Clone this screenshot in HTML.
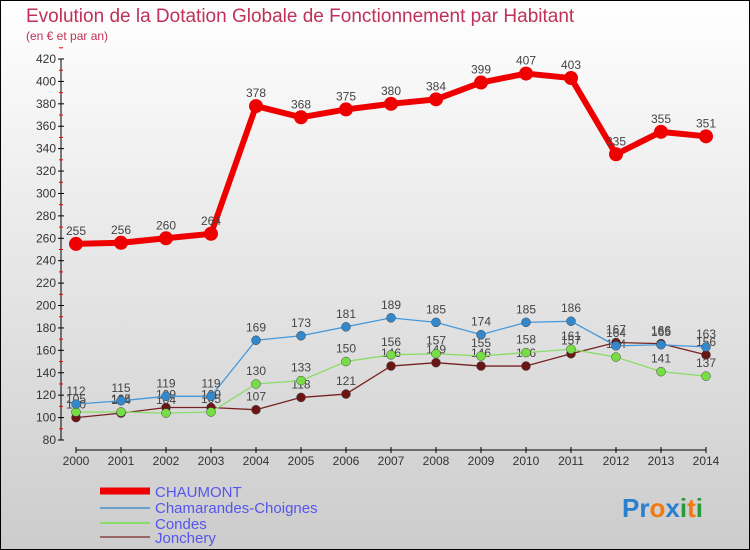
<!DOCTYPE html>
<html><head><meta charset="utf-8"><style>
body{margin:0}
svg{display:block;font-family:"Liberation Sans",sans-serif}
</style></head><body>
<svg id="c" width="750" height="550" xmlns="http://www.w3.org/2000/svg">
<defs><linearGradient id="bg" x1="0" y1="0" x2="0" y2="1"><stop offset="0" stop-color="#ffffff"/><stop offset="1" stop-color="#cccccc"/></linearGradient></defs>
<rect x="0.5" y="0.5" width="749" height="549" fill="url(#bg)" stroke="#000"/>
<text x="26" y="22" font-size="19" fill="#c0305a">Evolution de la Dotation Globale de Fonctionnement par Habitant</text>
<text x="26" y="40" font-size="12" fill="#c0305a">(en € et par an)</text>
<g id="axes"></g><g id="series"></g>
<g>
<line x1="100" y1="491" x2="150" y2="491" stroke="#e00" stroke-width="7"/>
<text x="155" y="497" font-size="15" fill="#5555ee">CHAUMONT</text>
<line x1="100" y1="508" x2="150" y2="508" stroke="#6aa0cc" stroke-width="2"/>
<text x="155" y="513" font-size="15" fill="#5555ee">Chamarandes-Choignes</text>
<line x1="100" y1="523" x2="150" y2="523" stroke="#88dd66" stroke-width="2"/>
<text x="155" y="529" font-size="15" fill="#5555ee">Condes</text>
<line x1="100" y1="537" x2="150" y2="537" stroke="#996666" stroke-width="2"/>
<text x="155" y="543" font-size="15" fill="#5555ee">Jonchery</text>
</g>
<text x="622" y="517" font-size="26" font-weight="bold"><tspan fill="#2a7fd0">Pr</tspan><tspan fill="#f07a10">o</tspan><tspan fill="#2a7fd0">x</tspan><tspan fill="#2a9a3a">i</tspan><tspan fill="#f07a10">t</tspan><tspan fill="#2a9a3a">i</tspan></text>
</svg>
<script>
const years=["2000","2001","2002","2003","2004","2005","2006","2007","2008","2009","2010","2011","2012","2013","2014"];
const yTicks=[80,100,120,140,160,180,200,220,240,260,280,300,320,340,360,380,400,420];
const chaumont=[255,256,260,264,378,368,375,380,384,399,407,403,335,355,351];
const chamarandes=[112,115,119,119,169,173,181,189,185,174,185,186,164,165,163];
const condes=[105,105,104,105,130,133,150,156,157,155,158,161,154,141,137];
const jonchery=[100,104,109,109,107,118,121,146,149,146,146,157,167,166,156];
const NS="http://www.w3.org/2000/svg";
const xS=i=>76+i*45;
const yS=v=>440-(v-80)*381/340;
function mk(t,a,p){const e=document.createElementNS(NS,t);for(const k in a)e.setAttribute(k,a[k]);p.appendChild(e);return e;}
const ax=document.getElementById('axes');
const yl=mk('line',{x1:61,y1:yS(420),x2:61,y2:yS(80),stroke:'#000'},ax);


yTicks.forEach(v=>{
 mk('line',{x1:58,y1:yS(v),x2:64,y2:yS(v),stroke:'#000'},ax);
 mk('line',{x1:59,y1:yS(v+10),x2:63,y2:yS(v+10),stroke:'#e00'},ax);
 const t=mk('text',{x:56,y:yS(v)+4,'font-size':12,fill:'#333','text-anchor':'end'},ax);t.textContent=v;
 
 
});
const xl=mk('line',{x1:76,y1:450,x2:706,y2:450,stroke:'#000'},ax);


years.forEach((y,i)=>{
 mk('line',{x1:xS(i),y1:447,x2:xS(i),y2:453,stroke:'#000'},ax);
 const t=mk('text',{x:xS(i),y:465,'font-size':12,fill:'#333','text-anchor':'middle'},ax);t.textContent=y;
 
 
});
const sg=document.getElementById('series');
function series(data,name,col,lw,r,dot){
 const g=mk('g',{},sg);
 
 
 mk('polyline',{points:data.map((v,i)=>xS(i)+','+yS(v)).join(' '),fill:'none',stroke:col,'stroke-width':lw,'stroke-linejoin':'round'},g);
 data.forEach((v,i)=>{
  const c=mk('circle',{cx:xS(i),cy:yS(v),r:r,fill:dot,stroke:dot==='#e00'?'none':'#444','stroke-width':0.5},g);
  
  
  const t=mk('text',{x:xS(i),y:yS(v)-9,'font-size':12,fill:'#444','text-anchor':'middle'},g);t.textContent=v;
 });
}
series(jonchery,'jonchery','#772222',1.3,4.5,'#6b1515');
series(condes,'condes','#88dd66',1.3,4.5,'#77dd44');
series(chamarandes,'chamarandes','#4499dd',1.3,4.5,'#3388cc');
series(chaumont,'chaumont','#e00',6,7,'#e00');
</script>
</body></html>
